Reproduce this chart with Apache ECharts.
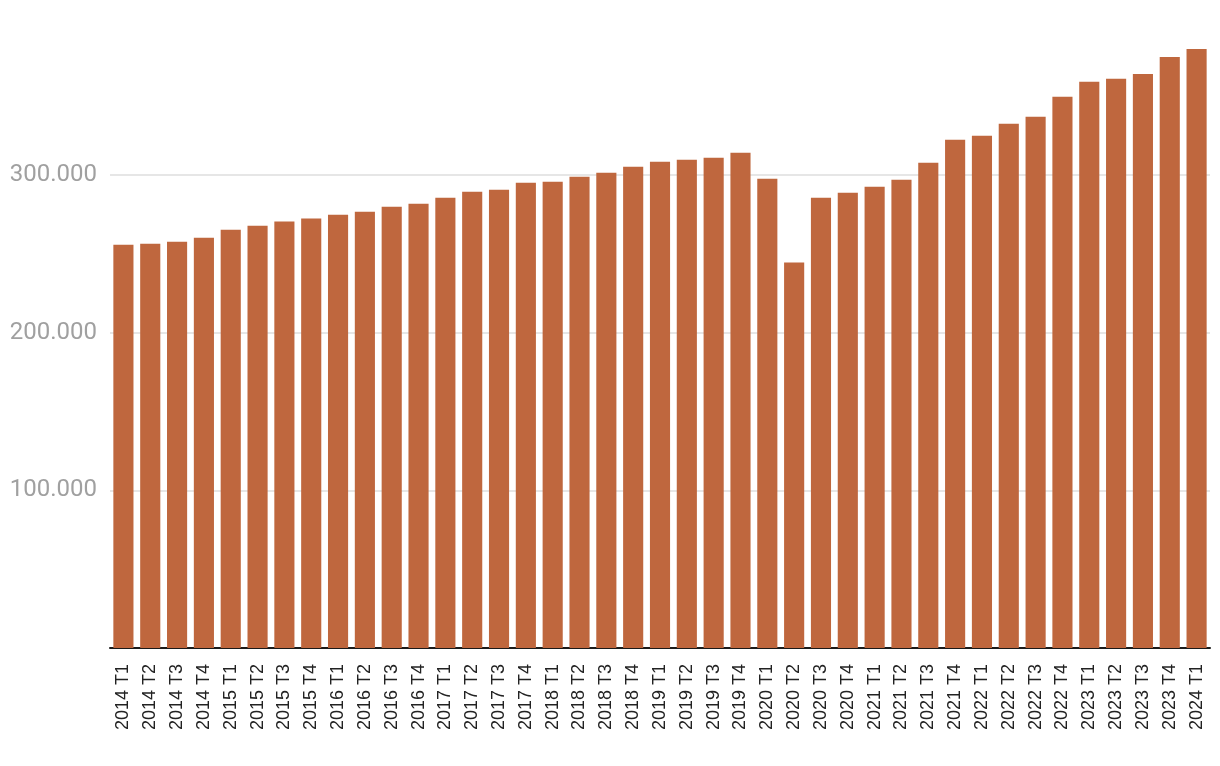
<!DOCTYPE html>
<html>
<head>
<meta charset="utf-8">
<script src="https://cdn.jsdelivr.net/npm/echarts@6/dist/echarts.min.js"></script>
<style>html,body{margin:0;padding:0;background:#fff}#c{width:1220px;height:766px}</style>
</head>
<body>
<div id="c"></div>
<script>
const categories = [
  "2014 T1","2014 T2","2014 T3","2014 T4",
  "2015 T1","2015 T2","2015 T3","2015 T4",
  "2016 T1","2016 T2","2016 T3","2016 T4",
  "2017 T1","2017 T2","2017 T3","2017 T4",
  "2018 T1","2018 T2","2018 T3","2018 T4",
  "2019 T1","2019 T2","2019 T3","2019 T4",
  "2020 T1","2020 T2","2020 T3","2020 T4",
  "2021 T1","2021 T2","2021 T3","2021 T4",
  "2022 T1","2022 T2","2022 T3","2022 T4",
  "2023 T1","2023 T2","2023 T3","2023 T4",
  "2024 T1"
];
const values = [
  255700, 256300, 257600, 260100,
  265200, 267700, 270300, 272200,
  274700, 276600, 279700, 281600,
  285400, 289200, 290500, 294900,
  295600, 298700, 301300, 305100,
  308200, 309500, 310800, 313900,
  297500, 244300, 285400, 288600,
  292400, 296800, 307600, 322200,
  324700, 332300, 336700, 349400,
  358900, 360800, 363900, 374700,
  379700
];
const yMin = 0, yMax = 400000, yStep = 100000;

const chart = echarts.init(document.getElementById('c'), null, {renderer: 'canvas'});
chart.setOption({
  animation: false,
  backgroundColor: '#ffffff',
  grid: {left: 110, right: 10, top: 17, bottom: 118, containLabel: false},
  xAxis: {
    type: 'category',
    data: categories,
    axisLine: {show: true, lineStyle: {color: '#1a1a1a', width: 2}},
    axisTick: {show: false},
    axisLabel: {
      rotate: 90, interval: 0, margin: 16,
      color: '#222222', fontSize: 18,
      fontFamily: 'Liberation Sans, Arial, sans-serif'
    }
  },
  yAxis: {
    type: 'value',
    min: yMin, max: yMax, interval: yStep,
    axisLine: {show: false},
    axisTick: {show: false},
    splitLine: {show: true, showMaxLine: false, showMinLine: false, lineStyle: {color: '#e6e6e6', width: 2}},
    axisLabel: {
      showMinLabel: false, showMaxLabel: false,
      margin: 13, color: '#a0a0a0', fontSize: 24,
      fontFamily: 'Roboto, sans-serif',
      formatter: v => v.toLocaleString('de-DE')
    }
  },
  series: [{
    type: 'bar',
    data: values,
    barCategoryGap: '25%',
    itemStyle: {color: '#BF673E'}
  }]
});
</script>
</body>
</html>
